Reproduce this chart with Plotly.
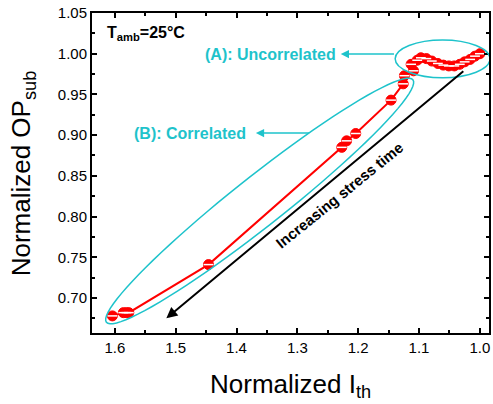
import numpy as np
import plotly.graph_objects as go

# ---- data ----
ith = [1.000, 1.008, 1.016, 1.025, 1.033, 1.042, 1.051, 1.060, 1.069, 1.079,
       1.088, 1.097, 1.103, 1.113, 1.109, 1.124, 1.126, 1.146, 1.204, 1.219,
       1.227, 1.446, 1.577, 1.581, 1.586, 1.604]
op_sub = [1.000, 0.997, 0.993, 0.990, 0.987, 0.985, 0.985, 0.986, 0.988, 0.991,
          0.994, 0.995, 0.992, 0.987, 0.979, 0.973, 0.963, 0.943, 0.902, 0.893,
          0.885, 0.741, 0.682, 0.682, 0.682, 0.678]
x_ticks = [1.6, 1.5, 1.4, 1.3, 1.2, 1.1, 1.0]
y_ticks = [0.70, 0.75, 0.80, 0.85, 0.90, 0.95, 1.00, 1.05]

X_RANGE = [1.6375, 0.985]
Y_RANGE = [0.657, 1.05]
W, H = 493, 404
ML, MR, MT, MB = 92, 2, 13, 71
PW, PH = W - ML - MR, H - MT - MB

FONT = "Arial, Liberation Sans, sans-serif"
CYAN = "#1EC3CB"
RED = "#FF0000"


def px2data(px, py):
    x = X_RANGE[0] + (px - ML) / PW * (X_RANGE[1] - X_RANGE[0])
    y = Y_RANGE[1] - (py - MT) / PH * (Y_RANGE[1] - Y_RANGE[0])
    return x, y


def ellipse_path(cx, cy, a, b, ang_deg, n=90):
    th = np.radians(ang_deg)
    u = np.array([np.cos(th), -np.sin(th)])
    nv = np.array([np.sin(th), np.cos(th)])
    pts = []
    for t in np.linspace(0, 2 * np.pi, n, endpoint=False):
        p = np.array([cx, cy]) + a * np.cos(t) * u + b * np.sin(t) * nv
        pts.append(px2data(p[0], p[1]))
    return "M " + " L ".join(f"{x:.5f},{y:.5f}" for x, y in pts) + " Z"


fig = go.Figure()
fig.add_trace(go.Scatter(
    x=ith, y=op_sub, mode="lines+markers",
    line=dict(color=RED, width=2),
    marker=dict(symbol="circle", size=10, color=RED, line=dict(color=RED, width=1)),
    showlegend=False))
fig.add_trace(go.Scatter(
    x=ith, y=op_sub, mode="markers",
    marker=dict(symbol="line-ew", size=7, line=dict(color="white", width=1.5)),
    showlegend=False))

# ellipses
ax0, ay0 = px2data(396.7, 40)
ax1, ay1 = px2data(492, 77.7)
fig.add_shape(type="circle", xref="x", yref="y", x0=ax0, x1=ax1, y0=ay1, y1=ay0,
              line=dict(color=CYAN, width=1.5))
fig.add_shape(type="path", xref="x", yref="y",
              path=ellipse_path(260.5, 201, 196, 25, 38.2),
              line=dict(color=CYAN, width=1.5))

anns = []
# text labels
tx, ty = px2data(271, 54)
anns.append(dict(x=tx, y=ty, text="(A): Uncorrelated", showarrow=False,
                 font=dict(color=CYAN, size=16, family=FONT, weight="bold"),
                 xanchor="center", yanchor="middle"))
tx, ty = px2data(190, 133)
anns.append(dict(x=tx, y=ty, text="(B): Correlated", showarrow=False,
                 font=dict(color=CYAN, size=16, family=FONT, weight="bold"),
                 xanchor="center", yanchor="middle"))
# cyan arrows
for (t0, t1, yy) in [(397, 342, 54), (311.7, 256.7, 133)]:
    hx, hy = px2data(t1, yy)
    sx, sy = px2data(t0, yy)
    anns.append(dict(x=hx, y=hy, ax=sx, ay=sy, axref="x", ayref="y", text="",
                     showarrow=True, arrowhead=2, arrowsize=1.1, arrowwidth=1.5,
                     arrowcolor=CYAN))
# black arrow
hx, hy = px2data(166.7, 318.3)
sx, sy = px2data(466.7, 70)
anns.append(dict(x=hx, y=hy, ax=sx, ay=sy, axref="x", ayref="y", text="",
                 showarrow=True, arrowhead=2, arrowsize=1.1, arrowwidth=2,
                 arrowcolor="black"))
tx, ty = px2data(340, 195)
anns.append(dict(x=tx, y=ty, text="Increasing stress time", showarrow=False,
                 textangle=-39, font=dict(color="black", size=15, family=FONT, weight="bold"),
                 xanchor="center", yanchor="middle"))
tx, ty = px2data(105, 33)
anns.append(dict(x=tx, y=ty, text="T<sub>amb</sub>=25°C", showarrow=False,
                 font=dict(color="black", size=16, family=FONT, weight="bold"),
                 xanchor="left", yanchor="middle"))
# axis titles
anns.append(dict(xref="paper", yref="paper", x=(291.5 - ML) / PW, y=(MT + PH - 385) / PH,
                 text="Normalized I<sub>th</sub>", showarrow=False,
                 font=dict(color="black", size=26, family=FONT),
                 xanchor="center", yanchor="middle"))
anns.append(dict(xref="paper", yref="paper", x=(22 - ML) / PW, y=0.5,
                 text="Normalized OP<sub>sub</sub>", showarrow=False, textangle=-90,
                 font=dict(color="black", size=26, family=FONT),
                 xanchor="center", yanchor="middle"))

axis_common = dict(showgrid=False, zeroline=False, showline=True, linecolor="black",
                   linewidth=2, mirror="ticks", ticks="inside", ticklen=5, tickwidth=1.5,
                   tickcolor="black", tickfont=dict(size=15, family=FONT, color="black"))

fig.update_xaxes(range=X_RANGE, tickvals=x_ticks, tickformat=".1f",
                 minor=dict(ticks="inside", ticklen=3, tickwidth=1.5, dtick=0.05,
                            tick0=1.0, tickcolor="black"),
                 **axis_common)
fig.update_yaxes(range=Y_RANGE, tickvals=y_ticks, tickformat=".2f",
                 minor=dict(ticks="inside", ticklen=3, tickwidth=1.5, dtick=0.025,
                            tick0=0.7, tickcolor="black"),
                 **axis_common)

fig.update_layout(width=W, height=H, margin=dict(l=ML, r=MR, t=MT, b=MB),
                  plot_bgcolor="white", paper_bgcolor="white",
                  annotations=anns, font=dict(family=FONT))
fig.write_html("out.html", config={"displayModeBar": False},
               post_script="document.body.style.margin='0';")
